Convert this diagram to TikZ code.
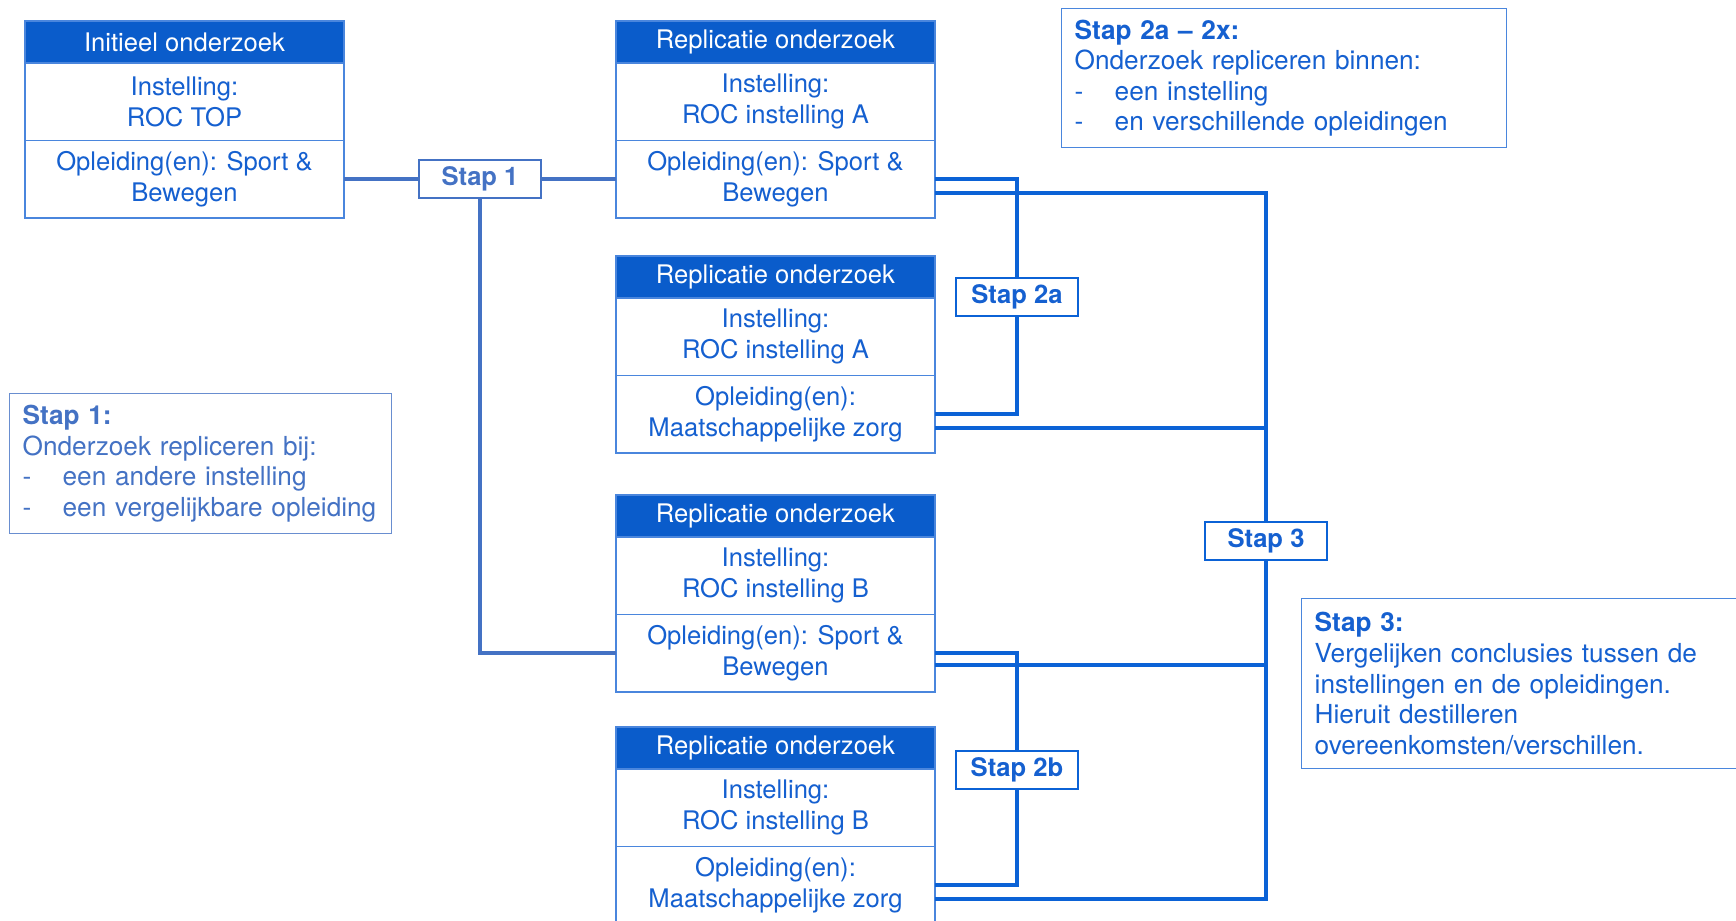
\documentclass[tikz,border=0pt]{standalone}
\usepackage{fontspec}
\setmainfont{TeX Gyre Heros}
\usepackage{tikz}
\usetikzlibrary{positioning, calc}

\definecolor{hdrblue}{HTML}{0A5CCB}
\definecolor{txtblue}{HTML}{1560D0}
\definecolor{edgeblue}{HTML}{4A86DD}
\definecolor{linkblue}{HTML}{0B62D6}
\definecolor{stapone}{HTML}{4472C4}

\newcommand{\boxfont}{\fontsize{12.8}{15.5}\selectfont}
\newcommand{\notefont}{\fontsize{13.1}{15.3}\selectfont}
\newcommand{\listitem}[1]{\makebox[20pt][l]{-}#1}

\tikzstyle{header} = [rectangle, minimum width=159.5pt, minimum height=21pt, inner sep=0pt, outer sep=0pt, text centered, draw=edgeblue, fill=hdrblue, text=white, line width=0.8pt, font=\boxfont]
\tikzstyle{part} = [rectangle, minimum width=159.5pt, minimum height=38.75pt, inner sep=0pt, outer sep=0pt, align=center, draw=edgeblue, fill=white, text=txtblue, line width=0.8pt, font=\boxfont]
\tikzstyle{stapbox} = [rectangle, minimum width=61pt, minimum height=19pt, inner sep=0pt, draw=linkblue, fill=white, text=txtblue, line width=1.3pt, font=\boxfont\bfseries]
\tikzstyle{note} = [rectangle, anchor=north west, align=left, draw=edgeblue, fill=white, text=txtblue, line width=0.7pt, inner xsep=6.5pt, font=\notefont]
\tikzstyle{link} = [line width=1.8pt, draw=linkblue]
\tikzstyle{linkone} = [line width=1.8pt, draw=stapone]

\begin{document}
\begin{tikzpicture}[x=0.5pt, y=-0.5pt]
\useasboundingbox (0,0) rectangle (1736,921);

% Initieel onderzoek
\node (ihead) [header, anchor=north] at (184.5,21) {Initieel onderzoek};
\node (iinst) [part, below=0pt of ihead] {Instelling:\\ROC TOP};
\node (iopl) [part, below=0pt of iinst] {Opleiding(en): Sport \&\\Bewegen};

% Replicatie onderzoek
\node (rhead1) [header, anchor=north] at (775.5,21) {Replicatie onderzoek};
\node (rinst1) [part, below=0pt of rhead1] {Instelling:\\ROC instelling A};
\node (ropl1) [part, below=0pt of rinst1] {Opleiding(en): Sport \&\\Bewegen};

\node (rhead2) [header, anchor=north] at (775.5,256) {Replicatie onderzoek};
\node (rinst2) [part, below=0pt of rhead2] {Instelling:\\ROC instelling A};
\node (ropl2) [part, below=0pt of rinst2] {Opleiding(en):\\Maatschappelijke zorg};

\node (rhead3) [header, anchor=north] at (775.5,495) {Replicatie onderzoek};
\node (rinst3) [part, below=0pt of rhead3] {Instelling:\\ROC instelling B};
\node (ropl3) [part, below=0pt of rinst3] {Opleiding(en): Sport \&\\Bewegen};

\node (rhead4) [header, anchor=north] at (775.5,727) {Replicatie onderzoek};
\node (rinst4) [part, below=0pt of rhead4] {Instelling:\\ROC instelling B};
\node (ropl4) [part, below=0pt of rinst4] {Opleiding(en):\\Maatschappelijke zorg};

% Stappen
\node (stap1) [stapbox, draw=stapone, line width=1pt, text=stapone] at ($(iopl.east)!0.5!(ropl1.west)$) {Stap 1};
\node (stap2a) [stapbox] at (1017,297) {Stap 2a};
\node (stap2b) [stapbox] at (1017,770) {Stap 2b};
\node (stap3) [stapbox] at (1266,541) {Stap 3};

% Toelichting
\node (note1) [note, draw=stapone!80, text=stapone, text width=178pt, minimum height=70pt] at (9,393)
  {\textbf{Stap 1:}\\Onderzoek repliceren bij:\\\listitem{een andere instelling}\\\listitem{een vergelijkbare opleiding}};
\node (note2) [note, text width=209.5pt, minimum height=69.5pt] at (1061,8)
  {\textbf{Stap 2a – 2x:}\\Onderzoek repliceren binnen:\\\listitem{een instelling}\\\listitem{en verschillende opleidingen}};
\node (note3) [note, text width=227pt, minimum height=85pt] at (1301,598)
  {\textbf{Stap 3:}\\Vergelijken conclusies tussen de\\instellingen en de opleidingen.\\Hieruit destilleren\\overeenkomsten/verschillen.};

% Lijnen
\draw [linkone] (iopl.east) -- (stap1.west);
\draw [linkone] (stap1.east) -- (ropl1.west);
\draw [linkone] (stap1.south) |- (ropl3.west);

\draw [link] (ropl1.east) -| (stap2a.north);
\draw [link] (stap2a.south) |- (ropl2.east);
\draw [link] (ropl3.east) -| (stap2b.north);
\draw [link] (stap2b.south) |- (ropl4.east);

\draw [link] ($(ropl1.east)+(0,14)$) -| (stap3.north);
\draw [link] ($(ropl2.east)+(0,14)$) -| (stap3.north);
\draw [link] ($(ropl3.east)+(0,12)$) -| (stap3.south);
\draw [link] ($(ropl4.east)+(0,14)$) -| (stap3.south);

\end{tikzpicture}
\end{document}
